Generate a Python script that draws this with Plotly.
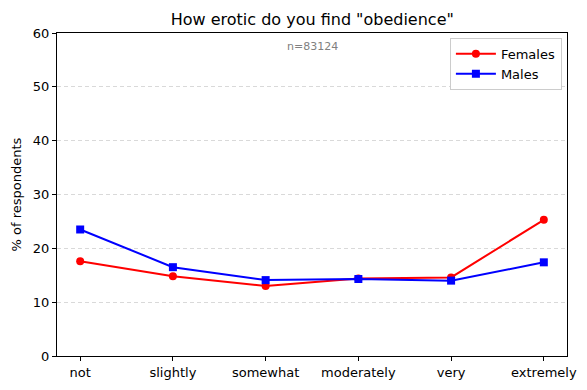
import plotly.graph_objects as go

categories = ["not", "slightly", "somewhat", "moderately", "very", "extremely"]
females = [17.6, 14.8, 13.0, 14.4, 14.6, 25.3]
males = [23.5, 16.5, 14.1, 14.3, 14.0, 17.4]
y_ticks = [0, 10, 20, 30, 40, 50, 60]
n_label = "n=83124"

x = list(range(len(categories)))
fig = go.Figure()
fig.add_trace(go.Scatter(x=x, y=females, mode="lines+markers", name="Females",
                         line=dict(color="red", width=2),
                         marker=dict(symbol="circle", size=8, color="red")))
fig.add_trace(go.Scatter(x=x, y=males, mode="lines+markers", name="Males",
                         line=dict(color="blue", width=2),
                         marker=dict(symbol="square", size=8, color="blue")))

fig.update_layout(
    width=587, height=390,
    margin=dict(l=57, r=20, t=33, b=34, autoexpand=False),
    paper_bgcolor="white", plot_bgcolor="white",
    font=dict(family="DejaVu Sans", size=13, color="black"),
    title=dict(text='How erotic do you find "obedience"', x=0.532, xanchor="center",
               y=1 - 19 / 390, yanchor="middle", font=dict(size=16)),
    showlegend=True,
    legend=dict(x=0.99, y=0.985, xanchor="right", yanchor="top",
                bordercolor="#cccccc", borderwidth=1, bgcolor="white",
                font=dict(size=13), itemwidth=40),
    xaxis=dict(tickmode="array", tickvals=x, ticktext=categories, automargin=False,
               range=[-0.25, 5.25], showgrid=False, zeroline=False,
               showline=True, linecolor="black", linewidth=1, mirror=True,
               ticks="outside", ticklen=4, tickcolor="black"),
    yaxis=dict(tickmode="array", tickvals=y_ticks, range=[0, 60], automargin=False,
               showgrid=True, gridcolor="#d9d9d9", griddash="4px,3px", gridwidth=1,
               zeroline=False, showline=True, linecolor="black", linewidth=1,
               mirror=True, ticks="outside", ticklen=4, tickcolor="black",
               title=dict(text="% of respondents", standoff=8, font=dict(size=13))),
)
fig.add_annotation(x=0.5, y=0.985, xref="paper", yref="paper", text=n_label,
                   showarrow=False, xanchor="center", yanchor="top",
                   font=dict(size=11, color="gray"))

fig.write_html("out.html", config={"displayModeBar": False},
               post_script="document.body.style.margin='0';")
